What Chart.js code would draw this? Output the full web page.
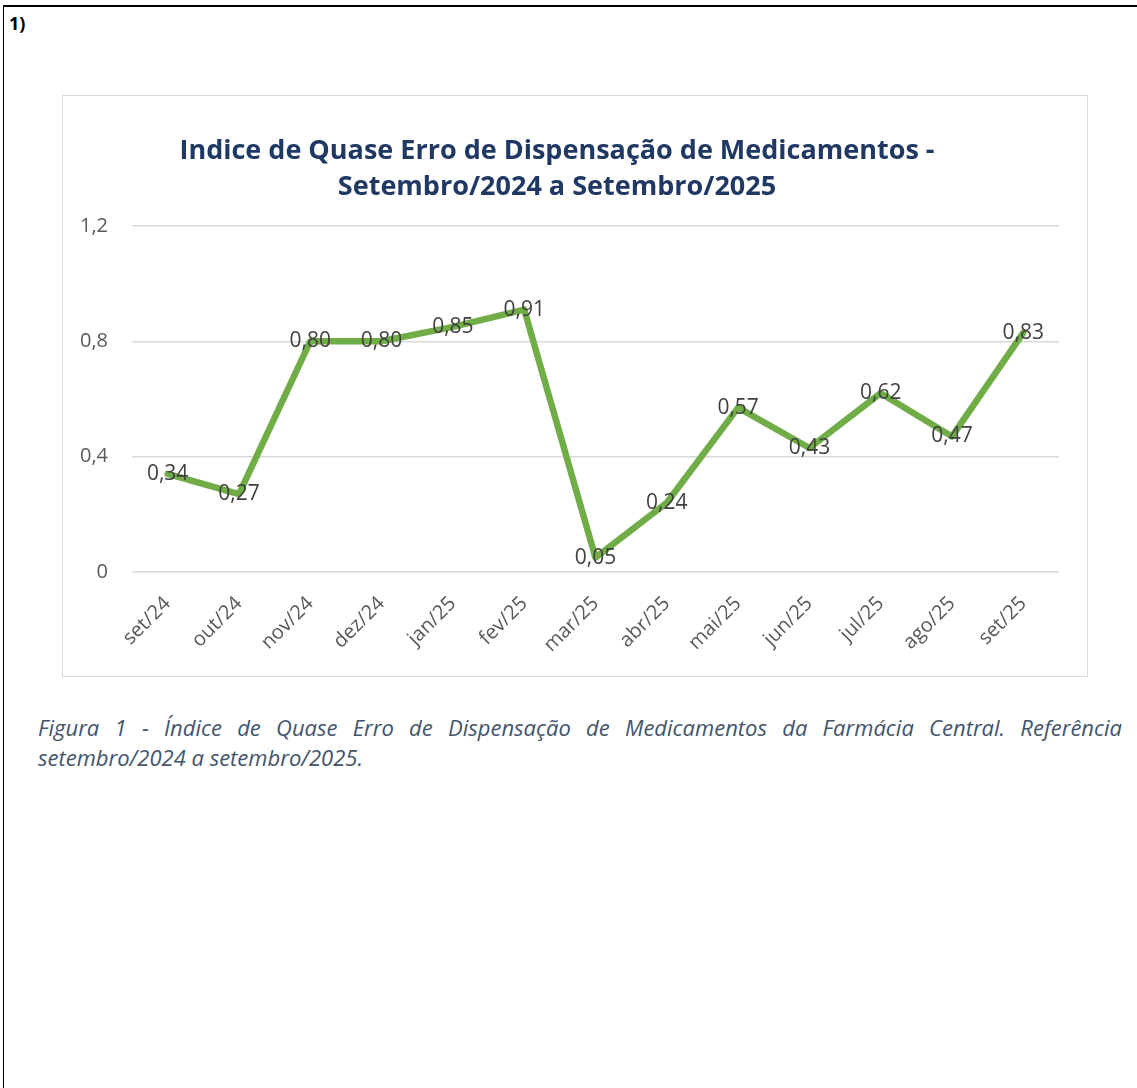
<!DOCTYPE html>
<html>
<head>
<meta charset="utf-8">
<script src="https://cdn.jsdelivr.net/npm/chart.js@4.4.1/dist/chart.umd.min.js"></script>
<style>
  html, body { margin: 0; padding: 0; background: #fff; }
  body { width: 1137px; height: 1088px; position: relative; overflow: hidden; }
  #frame { position: absolute; left: 3px; top: 5px; width: 1140px; height: 1100px;
           border-top: 2px solid #000; border-left: 1.5px solid #000; }
  #num { position: absolute; left: 9px; top: 11px; font: bold 18px "Open Sans", sans-serif; color: #000; }
  #box { position: absolute; left: 62px; top: 95px; width: 1024px; height: 580px; border: 1px solid #d9d9d9; }
  #myChart { position: absolute; left: 55px; top: 96px; }
  #caption { position: absolute; left: 38px; top: 712px; width: 1084px; text-align: justify;
             font: italic 22px/30px "Open Sans", sans-serif; color: #44546a; }
</style>
</head>
<body>
<div id="frame"></div>
<div id="num">1)</div>
<div id="box"></div>
<canvas id="myChart" width="1004" height="580"></canvas>
<div id="caption">Figura 1 - Índice de Quase Erro de Dispensação de Medicamentos da Farmácia Central. Referência setembro/2024 a setembro/2025.</div>
<script>
var months = ["set/24", "out/24", "nov/24", "dez/24", "jan/25", "fev/25", "mar/25",
              "abr/25", "mai/25", "jun/25", "jul/25", "ago/25", "set/25"];
var indice = [0.34, 0.27, 0.80, 0.80, 0.85, 0.91, 0.05, 0.24, 0.57, 0.43, 0.62, 0.47, 0.83];
var yTicks = [0, 0.4, 0.8, 1.2];
var titleLines = ["Indice de Quase Erro de Dispensação de Medicamentos -",
                  "Setembro/2024 a Setembro/2025"];

function fmt(v) {
  if (v === 0) return "0";
  return v.toFixed(1).replace(".", ",");
}

// rótulos de dados centrados no ponto
var valueLabels = {
  id: "valueLabels",
  afterDatasetsDraw: function(chart) {
    var ctx = chart.ctx;
    var meta = chart.getDatasetMeta(0);
    ctx.save();
    ctx.font = "21px 'Open Sans', sans-serif";
    ctx.fillStyle = "#404040";
    ctx.textAlign = "center";
    ctx.textBaseline = "middle";
    meta.data.forEach(function(pt, i) {
      ctx.fillText(indice[i].toFixed(2).replace(".", ","), pt.x, pt.y);
    });
    ctx.restore();
  }
};

window.onload = function() {
  const ctx = document.getElementById("myChart").getContext("2d");
  var chart = new Chart(ctx, {
    type: "line",
    data: {
      labels: months,
      datasets: [
        {
          label: "Indice",
          data: indice,
          borderColor: "#70ad47",
          backgroundColor: "#70ad47",
          borderWidth: 6.5,
          borderJoinStyle: "round",
          borderCapStyle: "round",
          pointRadius: 0,
          tension: 0,
          fill: false
        }
      ]
    },
    options: {
      responsive: false,
      animation: false,
      layout: { padding: 0 },
      plugins: {
        legend: { display: false },
        tooltip: { enabled: false },
        title: {
          display: true,
          text: titleLines,
          color: "#203864",
          font: { family: "Open Sans", size: 27, weight: "bold", lineHeight: 1.35 },
          padding: { top: 37, bottom: 20 }
        }
      },
      scales: {
        x: {
          offset: true,
          grid: { display: false },
          border: { display: false },
          ticks: {
            color: "#595959",
            font: { family: "Open Sans", size: 20 },
            minRotation: 45,
            maxRotation: 45,
            padding: 12
          },
          afterFit: function(scale) { scale.height = 104; }
        },
        y: {
          min: 0,
          max: 1.2,
          afterBuildTicks: function(scale) {
            scale.ticks = yTicks.map(function(v) { return { value: v }; });
          },
          grid: { color: "#d9d9d9", lineWidth: 1.5, drawTicks: false },
          border: { display: false },
          ticks: {
            color: "#595959",
            font: { family: "Open Sans", size: 20 },
            padding: 24,
            callback: function(v) { return fmt(v); }
          },
          afterFit: function(scale) { scale.width = 77; }
        }
      }
    },
    plugins: [valueLabels]
  });
};
</script>
</body>
</html>
